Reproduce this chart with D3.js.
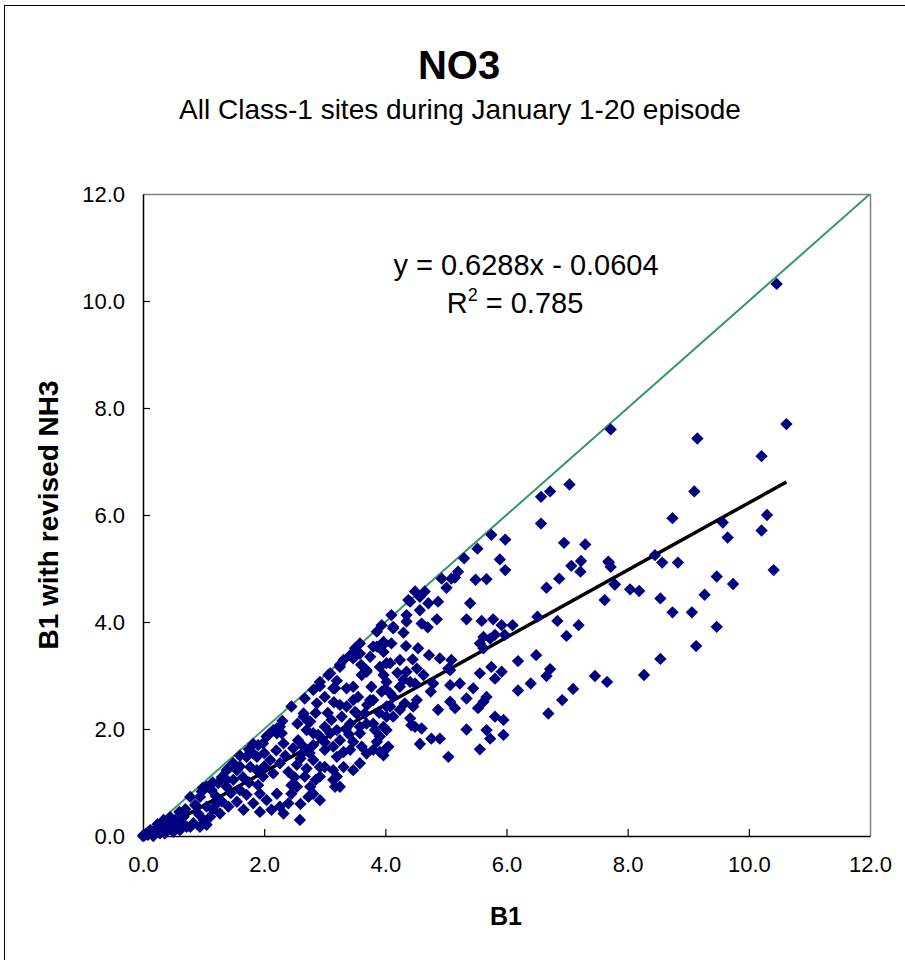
<!DOCTYPE html>
<html>
<head>
<meta charset="utf-8">
<script src="https://cdn.jsdelivr.net/npm/d3@7/dist/d3.min.js"></script>
<style>
    body { margin: 0; background: #fff; }
    text { font-family: Arial, "Liberation Sans", sans-serif; fill: #000; }
</style>
</head>
<body>
<svg id="chart" width="905" height="960"></svg>
<script>
// B1 (x) and B1 with revised NH3 (y), same order
var b1 = [
    10.46, 7.72, 9.15, 10.62, 10.21, 9.10, 8.74, 10.30, 10.21, 9.57,
    9.65, 8.45, 8.57, 8.83, 7.69, 7.72, 10.41, 9.47, 7.78, 8.04,
    8.19, 9.74, 7.62, 8.54, 9.27, 8.74, 9.06, 9.47, 9.13, 8.54,
    8.27, 7.66, 6.57, 6.95, 7.30, 7.07, 7.23, 7.22, 7.68, 6.87,
    6.66, 7.79, 6.51, 6.84, 7.19, 6.99, 6.49, 6.19, 6.72, 6.66,
    6.40, 6.19, 7.46, 7.10, 6.92, 6.69, 7.04, 6.72, 6.57, 5.75,
    5.98, 5.52, 5.89, 5.98, 5.30, 5.20, 4.93, 5.01, 5.15, 5.49,
    5.67, 5.40, 5.34, 5.59, 5.78, 5.92, 6.10, 5.97, 5.62, 5.73,
    5.56, 5.81, 5.62, 4.65, 4.57, 4.71, 4.87, 4.38, 4.57, 4.35,
    4.60, 4.10, 4.13, 3.99, 4.10, 4.34, 4.54, 4.72, 4.90, 5.09,
    5.04, 4.02, 4.35, 4.52, 4.63, 4.79, 5.07, 5.23, 5.56, 5.75,
    5.92, 5.81, 5.45, 5.34, 5.67, 5.62, 5.53, 5.07, 5.15, 4.87,
    5.81, 5.95, 5.34, 5.67, 5.73, 5.95, 4.76, 4.90, 4.57, 5.56,
    5.04, 4.41, 4.24, 4.13, 4.32, 4.46, 4.52, 4.08, 4.02, 4.43,
    4.60, 4.02, 4.02, 3.97, 5.09, 4.49, 4.41, 4.35, 4.13, 3.94,
    3.58, 3.50, 3.42, 3.31, 3.25, 3.09, 2.92, 2.81, 2.67, 3.86,
    3.97, 5.07, 4.24, 4.08, 3.91, 3.69, 3.61, 3.97, 4.49, 4.30,
    4.02, 3.77, 3.47, 3.36, 3.17, 2.87, 3.25, 3.36, 3.50, 3.66,
    3.75, 3.94, 4.08, 4.24, 4.02, 4.13, 4.41, 4.49, 3.97, 3.83,
    3.69, 3.58, 3.42, 3.28, 3.11, 3.00, 2.76, 2.65, 2.70, 2.89,
    3.09, 3.25, 3.47, 3.61, 3.86, 4.05, 3.91, 3.14, 3.00, 2.81,
    2.65, 3.31, 3.69, 3.86, 3.80, 3.97, 3.58, 3.25, 3.47, 3.69,
    2.92, 3.06, 3.47, 3.80, 3.53, 3.80, 3.58, 3.91, 3.80, 3.42,
    3.20, 2.92, 3.31, 3.14, 3.25, 3.47, 3.58, 2.81, 3.14, 2.45,
    2.65, 2.73, 3.20, 2.21, 2.04, 2.29, 2.32, 2.56, 2.81, 2.92,
    2.48, 2.65, 2.81, 3.00, 3.14, 3.20, 3.17, 2.92, 2.70, 2.54,
    2.67, 2.76, 2.54, 2.45, 2.40, 2.73, 2.92, 2.59, 2.12, 2.04,
    1.93, 2.21, 1.88, 1.77, 1.98, 2.15, 2.10, 2.26, 1.88, 1.77,
    1.60, 1.75, 1.82, 1.38, 1.49, 1.55, 1.38, 1.24, 1.13, 1.05,
    1.60, 1.71, 1.82, 1.55, 1.41, 1.66, 1.93, 2.26, 2.32, 0.78,
    0.94, 0.86, 1.05, 1.22, 0.91, 1.11, 1.27, 0.67, 0.53, 0.45,
    0.28, 0.34, 0.24, 0.12, 0.04, 0.78, 0.61, 0.99, 1.41, 1.49,
    2.07, 2.15, 0.00, 0.06, 0.17, 0.28, 0.36, 0.50, 0.58, 0.72,
    0.83, 0.97, 0.89, 0.94, 1.05, 1.38, 1.71, 1.82, 1.98, 2.21,
    2.26, 0.02, 0.08, 0.01, 0.13, 0.30, 0.40, 0.50, 0.65, 1.20,
    1.30, 1.45, 1.65, 1.75, 1.90, 2.00, 2.20, 2.35, 2.40, 2.50,
    2.60, 2.75, 2.85, 3.00, 3.05, 3.15, 3.35, 3.40, 3.55, 3.70,
    3.90, 4.00, 4.20, 4.45, 3.60, 3.75, 3.20, 3.00, 2.85, 2.55,
    2.30, 2.00, 1.90, 1.60, 1.30, 1.15, 0.70, 0.60, 0.45, 0.20,
    0.35, 1.00, 1.15, 2.45, 2.60, 4.75, 4.70, 4.85, 4.30
];
var b1RevisedNH3 = [
    10.32, 7.60, 7.43, 7.70, 7.10, 6.44, 5.94, 6.00, 5.71, 5.86,
    5.58, 5.25, 5.11, 5.11, 5.11, 5.03, 4.97, 4.85, 4.71, 4.61,
    4.58, 4.71, 4.41, 4.44, 4.51, 4.18, 4.18, 3.91, 3.55, 3.31,
    3.01, 2.88, 5.84, 5.48, 5.45, 5.05, 5.14, 4.94, 5.13, 4.81,
    4.64, 4.70, 4.10, 4.02, 3.94, 3.74, 3.38, 3.27, 3.12, 2.99,
    2.85, 2.72, 2.99, 2.75, 2.54, 2.29, 6.57, 6.44, 6.34, 5.63,
    5.54, 5.37, 5.17, 4.97, 5.19, 4.94, 4.81, 4.64, 4.83, 4.79,
    4.80, 4.35, 4.05, 4.02, 4.05, 3.94, 3.94, 3.76, 3.72, 3.69,
    3.60, 3.76, 3.51, 4.57, 4.47, 4.35, 4.38, 4.41, 4.22, 4.13,
    3.97, 4.13, 3.88, 3.60, 3.60, 3.55, 3.51, 3.38, 3.32, 3.29,
    3.13, 3.23, 3.07, 3.13, 3.01, 2.85, 2.82, 2.85, 3.04, 3.16,
    3.07, 2.94, 2.76, 2.57, 2.60, 2.51, 2.39, 2.51, 2.39, 2.36,
    2.23, 2.17, 1.99, 1.98, 1.82, 1.89, 1.82, 1.82, 1.72, 1.62,
    1.48, 2.88, 2.79, 2.60, 2.48, 2.42, 2.54, 2.42, 2.23, 2.07,
    2.01, 1.98, 1.64, 1.51, 4.81, 4.57, 4.38, 4.01, 3.91, 3.94,
    3.60, 3.51, 3.38, 3.29, 3.16, 3.04, 2.88, 2.73, 2.57, 3.54,
    3.63, 3.10, 3.29, 3.23, 3.16, 3.10, 3.01, 3.01, 2.85, 2.92,
    2.88, 2.79, 2.79, 2.76, 2.76, 2.48, 2.45, 2.42, 2.32, 2.29,
    2.54, 2.70, 2.67, 2.36, 2.42, 2.23, 2.20, 2.04, 2.04, 1.98,
    2.10, 2.04, 2.10, 2.23, 2.17, 2.04, 2.14, 2.23, 1.98, 1.89,
    1.92, 1.79, 1.76, 1.67, 1.76, 1.67, 1.57, 1.67, 1.61, 1.70,
    1.67, 1.57, 1.54, 3.82, 3.54, 3.44, 3.41, 3.20, 3.32, 3.07,
    2.80, 3.01, 2.54, 2.54, 2.29, 2.10, 1.92, 1.86, 1.61, 1.61,
    1.48, 1.29, 1.29, 1.05, 0.92, 1.23, 1.36, 0.79, 2.76, 2.42,
    2.29, 2.14, 1.98, 2.01, 1.86, 1.92, 1.73, 1.79, 1.92, 1.86,
    1.64, 1.57, 1.42, 1.29, 1.23, 1.11, 0.92, 1.11, 1.26, 1.33,
    1.11, 0.92, 0.92, 0.79, 0.61, 0.73, 0.67, 0.30, 0.49, 0.67,
    0.79, 0.79, 1.23, 1.29, 1.11, 1.17, 1.42, 1.36, 1.48, 1.57,
    1.50, 1.62, 1.72, 0.92, 1.05, 1.23, 1.23, 0.99, 0.86, 0.92,
    0.86, 0.77, 0.61, 0.64, 0.55, 0.49, 0.45, 0.55, 0.42, 0.73,
    0.73, 0.58, 0.55, 0.61, 0.42, 0.36, 0.42, 0.36, 0.30, 0.17,
    0.11, 0.30, 0.22, 0.11, 0.03, 0.17, 0.11, 0.90, 1.26, 1.36,
    1.89, 1.98, 0.00, 0.05, 0.00, 0.05, 0.05, 0.08, 0.15, 0.17,
    0.24, 0.83, 0.55, 0.17, 0.21, 1.05, 1.48, 1.54, 1.73, 1.92,
    2.04, 0.01, 0.02, 0.02, 0.06, 0.20, 0.25, 0.20, 0.25, 0.75,
    0.65, 0.80, 1.10, 1.00, 0.95, 1.30, 1.60, 1.50, 1.20, 1.10,
    1.45, 1.55, 1.05, 1.75, 2.30, 2.50, 2.00, 1.90, 2.60, 2.45,
    2.30, 2.75, 3.05, 3.30, 3.20, 3.35, 2.90, 2.60, 2.30, 2.10,
    2.15, 1.55, 1.70, 1.30, 1.10, 1.00, 0.50, 0.45, 0.35, 0.12,
    0.15, 0.30, 0.50, 0.95, 0.60, 2.70, 3.90, 4.05, 3.80
];
var axisTicks = [0, 2, 4, 6, 8, 10, 12];
var trendSlope = 0.6288,
    trendIntercept = -0.0604,
    rSquared = 0.785;

(function () {

    var svg = d3.select('#chart'),
        plot = { left: 143, top: 194, right: 870, bottom: 836 },
        fmt = d3.format('.1f');

    var x = d3.scaleLinear().domain([0, 12]).range([plot.left, plot.right]),
        y = d3.scaleLinear().domain([0, 12]).range([plot.bottom, plot.top]);

    var points = b1.map(function (v, i) {
        return { x: v, y: b1RevisedNH3[i] };
    });

    // outer chart frame (only left and top edges fall inside the picture)
    svg.append('rect')
        .attr('x', 4.5).attr('y', 5.5)
        .attr('width', 1000).attr('height', 1000)
        .attr('fill', 'none')
        .attr('stroke', '#000')
        .attr('stroke-width', 1);

    svg.append('text')
        .attr('x', 459).attr('y', 79)
        .attr('text-anchor', 'middle')
        .style('font-size', '40px')
        .style('font-weight', 'bold')
        .text('NO3');

    svg.append('text')
        .attr('x', 460).attr('y', 119)
        .attr('text-anchor', 'middle')
        .style('font-size', '28px')
        .text('All Class-1 sites during January 1-20 episode');

    svg.append('defs').append('clipPath')
        .attr('id', 'plot-clip')
        .append('rect')
        .attr('x', plot.left).attr('y', plot.top)
        .attr('width', plot.right - plot.left)
        .attr('height', plot.bottom - plot.top);

    // grey frame for top and right edges
    svg.append('path')
        .attr('d', 'M' + plot.left + ',' + (plot.top + 0.5) +
            'H' + (plot.right + 0.5) + 'V' + plot.bottom)
        .attr('fill', 'none')
        .attr('stroke', '#808080')
        .attr('stroke-width', 1.5);

    // axes, ticks pointing inward
    var xAxis = d3.axisBottom(x).tickValues(axisTicks).tickFormat(fmt)
            .tickSizeInner(-7).tickSizeOuter(0).tickPadding(20),
        yAxis = d3.axisLeft(y).tickValues(axisTicks).tickFormat(fmt)
            .tickSizeInner(-7).tickSizeOuter(0).tickPadding(18);

    var $x = svg.append('g')
        .attr('transform', 'translate(0,' + plot.bottom + ')')
        .call(xAxis);
    var $y = svg.append('g')
        .attr('transform', 'translate(' + plot.left + ',0)')
        .call(yAxis);

    [$x, $y].forEach(function ($a) {
        $a.select('.domain').attr('stroke', '#000').attr('stroke-width', 1.5);
        $a.selectAll('.tick line').attr('stroke', '#000').attr('stroke-width', 1.2);
        $a.selectAll('.tick text')
            .style('font-size', '22px')
            .style('font-family', 'Arial, "Liberation Sans", sans-serif')
            .attr('fill', '#000');
    });
    $x.selectAll('.tick line').filter(function (d) { return d === 0 || d === 12; }).remove();
    $y.selectAll('.tick line').filter(function (d) { return d === 0 || d === 12; }).remove();

    var $layer = svg.append('g').attr('clip-path', 'url(#plot-clip)');

    // 1:1 reference line
    $layer.append('line')
        .attr('x1', x(0)).attr('y1', y(0))
        .attr('x2', x(12)).attr('y2', y(12))
        .attr('stroke', '#339966')
        .attr('stroke-width', 2);

    // markers
    var diamond = d3.symbol().type(d3.symbolSquare).size(76);
    svg.append('g')
        .selectAll('path')
        .data(points)
        .enter()
        .append('path')
        .attr('d', diamond)
        .attr('transform', function (d) {
            return 'translate(' + x(d.x) + ',' + y(d.y) + ') rotate(45)';
        })
        .attr('fill', '#000080');

    // linear trendline over the data range
    var xr = d3.extent(b1);
    $layer.append('line')
        .attr('x1', x(xr[0])).attr('y1', y(trendSlope * xr[0] + trendIntercept))
        .attr('x2', x(xr[1])).attr('y2', y(trendSlope * xr[1] + trendIntercept))
        .attr('stroke', '#000')
        .attr('stroke-width', 3.5);

    svg.append('text')
        .attr('x', 526).attr('y', 275)
        .attr('text-anchor', 'middle')
        .style('font-size', '29px')
        .text('y = ' + trendSlope + 'x - ' + Math.abs(trendIntercept));

    var r2 = svg.append('text')
        .attr('x', 515).attr('y', 313)
        .attr('text-anchor', 'middle')
        .style('font-size', '29px');
    r2.append('tspan').text('R');
    r2.append('tspan').attr('dy', -12).style('font-size', '18px').text('2');
    r2.append('tspan').attr('dy', 12).text(' = ' + rSquared);

    svg.append('text')
        .attr('x', 506).attr('y', 925)
        .attr('text-anchor', 'middle')
        .style('font-size', '25px')
        .style('font-weight', 'bold')
        .text('B1');

    svg.append('text')
        .attr('transform', 'translate(58,515) rotate(-90)')
        .attr('text-anchor', 'middle')
        .style('font-size', '28px')
        .style('font-weight', 'bold')
        .text('B1 with revised NH3');

})();
</script>
</body>
</html>
